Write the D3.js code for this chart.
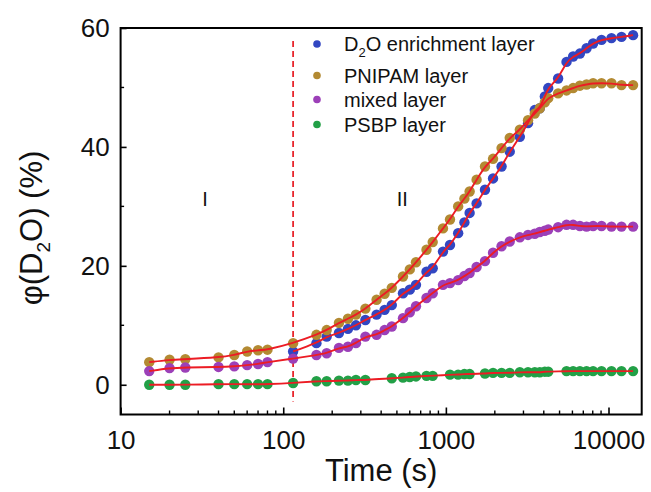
<!DOCTYPE html>
<html>
<head>
<meta charset="utf-8">
<script src="https://cdn.jsdelivr.net/npm/d3@7"></script>
<style>
  body { margin: 0; background: #fff; }
  svg { display: block; }
  text { font-family: Arial, "Liberation Sans", sans-serif; fill: #111; }
</style>
</head>
<body>
<svg id="chart" width="651" height="492"></svg>
<script>
// Sampling times (s), shared by all four layers
const times = [15, 20, 25, 40, 50, 60, 70, 80, 115,
  160, 185, 220, 250, 280, 320, 375, 420, 465, 545,
  600, 655, 760, 830, 960, 1060, 1190, 1300, 1400, 1545,
  1740, 1950, 2200, 2470, 2850, 3200, 3520, 3780, 4060, 4260,
  4900, 5520, 6060, 6670, 7330, 8040, 9060, 10430, 12020, 14160];

// φ(D2O) in %, one value per sampling time (null = no point)
const d2oLayer = [null, null, null, null, null, null, null, null, 5.6,
  7.0, 8.1, 8.7, 9.4, 10.0, 10.9, 11.8, 12.6, 13.4, 15.4,
  16.0, 16.8, 19.0, 19.6, 22.4, 23.5, 25.5, 27.3, 28.9, 30.5,
  32.8, 34.7, 36.7, 39.2, 41.7, 44.0, 46.2, 46.5, 48.5, 49.9,
  51.5, 54.3, 55.2, 55.7, 56.6, 57.4, 58.0, 58.3, 58.5, 58.8];

const pnipamLayer = [3.8, 4.2, 4.3, 4.6, 5.0, 5.6, 5.8, 5.9, 7.0,
  8.4, 9.2, 10.4, 11.1, 11.8, 12.8, 14.3, 15.3, 16.3, 18.2,
  19.4, 20.6, 22.7, 24.0, 26.3, 27.8, 30.0, 31.3, 32.5, 34.5,
  36.7, 38.0, 39.8, 41.5, 42.9, 44.5, 45.6, 46.5, 47.5, 48.2,
  49.0, 49.5, 49.9, 50.3, 50.5, 50.7, 50.7, 50.7, 50.4, 50.4];

const mixedLayer = [2.3, 2.8, 2.9, 3.0, 3.1, 3.3, 3.5, 3.8, 4.4,
  5.0, 5.3, 6.2, 6.4, 7.0, 8.1, 8.4, 9.2, 9.8, 11.2,
  12.2, 13.2, 14.6, 15.4, 16.8, 17.1, 17.6, 18.3, 18.8, 19.8,
  20.8, 22.2, 23.3, 24.1, 24.8, 25.2, 25.4, 25.7, 25.9, 26.1,
  26.5, 26.9, 26.9, 26.7, 26.6, 26.7, 26.7, 26.6, 26.6, 26.6];

const psbpLayer = [0.0, 0.0, 0.0, 0.1, 0.1, 0.1, 0.1, 0.1, 0.3,
  0.6, 0.6, 0.7, 0.7, 0.8, 0.8, null, null, 1.1, 1.2,
  1.3, 1.4, 1.5, 1.5, null, 1.7, 1.7, 1.8, 1.8, null,
  1.9, 2.0, 2.0, 2.0, 2.1, 2.1, 2.1, 2.1, 2.2, 2.2,
  null, 2.3, 2.3, 2.3, 2.3, 2.3, 2.3, 2.3, 2.3, 2.3];

const seriesNames = ["D\u2082O enrichment layer", "PNIPAM layer", "mixed layer", "PSBP layer"];
const seriesColors = ["#3346c2", "#b38a33", "#9c3fb8", "#23a046"];

const xTickValues = [10, 100, 1000, 10000];
const yTickValues = [0, 20, 40, 60];
const yMinorTicks = [10, 30, 50];
const boundaryTime = 115;            // end of stage I
const stageLabels = [{ text: "I", t: 33, v: 30 }, { text: "II", t: 540, v: 30 }];

const svg = d3.select("#chart");
const margin = { left: 120.6, right: 9.3, top: 28, bottom: 77.5 };
const W = 651, H = 492;

const x = d3.scaleLog().domain([10, 16000]).range([margin.left, W - margin.right]);
const y = d3.scaleLinear().domain([-5, 60]).range([H - margin.bottom, margin.top]);

const series = [d2oLayer, pnipamLayer, mixedLayer, psbpLayer].map((vals, i) => ({
  name: seriesNames[i],
  color: seriesColors[i],
  points: times.map((t, j) => ({ t, v: vals[j] })).filter(d => d.v != null)
}));

// Boundary between stage I and stage II
svg.append("line")
  .attr("x1", x(boundaryTime)).attr("x2", x(boundaryTime))
  .attr("y1", y(57.8)).attr("y2", y(-2.8))
  .attr("stroke", "#e8262c").attr("stroke-width", 1.8)
  .attr("stroke-dasharray", "6,4");

// Data points
const soft = svg.append("defs").append("filter").attr("id", "soft");
soft.append("feGaussianBlur").attr("stdDeviation", 0.5);

series.forEach(s => {
  svg.append("g").attr("filter", "url(#soft)")
    .selectAll("circle").data(s.points).join("circle")
    .attr("cx", d => x(d.t)).attr("cy", d => y(d.v))
    .attr("r", 5.2).attr("fill", s.color);
});

// Smooth fit curves
const fit = d3.line().x(d => x(d.t)).y(d => y(d.v)).curve(d3.curveBasis);
series.forEach(s => {
  svg.append("path").attr("d", fit(s.points))
    .attr("fill", "none").attr("stroke", "#ec1c24").attr("stroke-width", 1.9);
});

// Frame
svg.append("rect")
  .attr("x", margin.left).attr("y", margin.top)
  .attr("width", W - margin.left - margin.right)
  .attr("height", H - margin.top - margin.bottom)
  .attr("fill", "none").attr("stroke", "#000").attr("stroke-width", 2);

// Bottom axis, ticks pointing inward
const xMinor = [];
for (let d = 10; d < 16000; d *= 10) for (let k = 2; k <= 9; k++) if (d * k < 16000) xMinor.push(d * k);
const xAxis = svg.append("g").attr("transform", `translate(0,${y(-5)})`);
xAxis.call(d3.axisBottom(x).tickValues(xTickValues).tickFormat(d3.format("d"))
  .tickSizeInner(-7).tickSizeOuter(0).tickPadding(16));
xAxis.select(".domain").remove();
xAxis.selectAll(".tick line").attr("stroke-width", 1.6);
xAxis.selectAll(".tick text").attr("font-size", 26).attr("dy", "0.72em");
xAxis.selectAll(".minor").data(xMinor).join("line").attr("class", "minor")
  .attr("x1", d => x(d)).attr("x2", d => x(d)).attr("y1", 0).attr("y2", -4)
  .attr("stroke", "#000").attr("stroke-width", 1.4);

// Left axis, ticks pointing inward
const yAxis = svg.append("g").attr("transform", `translate(${margin.left},0)`);
yAxis.call(d3.axisLeft(y).tickValues(yTickValues)
  .tickSizeInner(-6).tickSizeOuter(0).tickPadding(11));
yAxis.select(".domain").remove();
yAxis.selectAll(".tick line").attr("stroke-width", 1.6);
yAxis.selectAll(".tick text").attr("font-size", 26);
yAxis.selectAll(".minor").data(yMinorTicks).join("line").attr("class", "minor")
  .attr("x1", 0).attr("x2", 3.5).attr("y1", d => y(d)).attr("y2", d => y(d))
  .attr("stroke", "#000").attr("stroke-width", 1.4);

// Axis titles
svg.append("text").attr("x", x(10) + (W - margin.right - x(10)) / 2).attr("y", 481)
  .attr("text-anchor", "middle").attr("font-size", 31).text("Time (s)");

const yTitle = svg.append("text")
  .attr("transform", `translate(42,${228}) rotate(-90)`)
  .attr("text-anchor", "middle").attr("font-size", 31);
yTitle.append("tspan").text("\u03c6(D");
yTitle.append("tspan").attr("font-size", 19).attr("dy", 8).text("2");
yTitle.append("tspan").attr("dy", -8).text("O) (%)");

// Stage labels
stageLabels.forEach(l => {
  svg.append("text").attr("x", x(l.t)).attr("y", y(l.v))
    .attr("text-anchor", "middle").attr("font-size", 20).text(l.text);
});

// Legend
const legendRows = [44, 75.5, 99.5, 124.5];
const legend = svg.append("g");
series.forEach((s, i) => {
  const g = legend.append("g").attr("transform", `translate(317,${legendRows[i]})`);
  g.append("circle").attr("r", 3.8).attr("fill", s.color).attr("filter", "url(#soft)");
  const t = g.append("text").attr("x", 27).attr("y", 7).attr("font-size", 20);
  if (i === 0) {
    t.append("tspan").text("D");
    t.append("tspan").attr("font-size", 13).attr("dy", 6).text("2");
    t.append("tspan").attr("dy", -6).text("O enrichment layer");
  } else {
    t.text(s.name);
  }
});
</script>
</body>
</html>
